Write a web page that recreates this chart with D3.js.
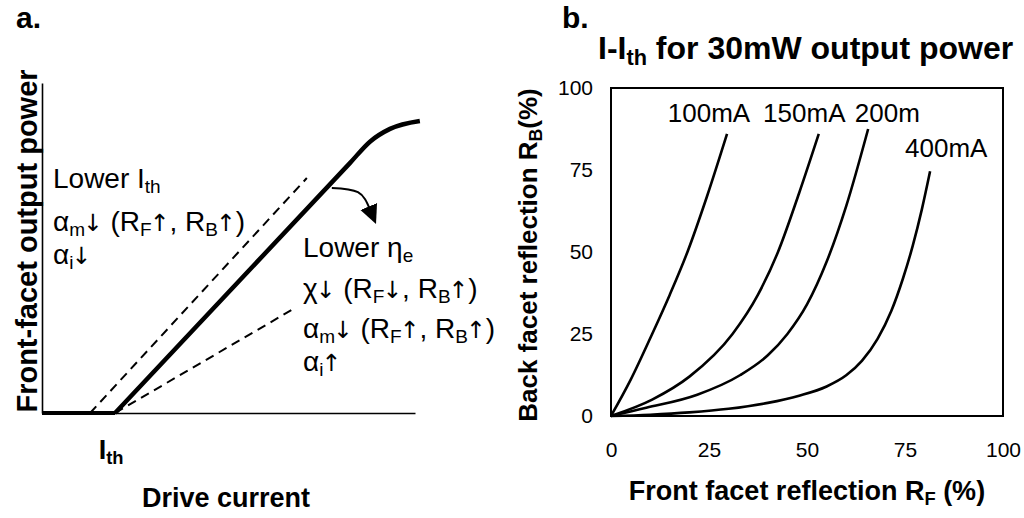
<!DOCTYPE html>
<html>
<head>
<meta charset="utf-8">
<script src="https://cdn.jsdelivr.net/npm/d3@7"></script>
<style>
  body { margin: 0; background: #fff; }
  svg text { font-family: "Liberation Sans", Arial, Helvetica, sans-serif; fill: #000; }
  .arw { font-family: "DejaVu Sans", sans-serif; }
</style>
</head>
<body>
<div id="chart"></div>
<script>
// ---- panel a: schematic L-I curve (arbitrary units 0..100) ----
var ithA = 19.6;
var liCurve = [[19.6, 0], [82.6, 75.8], [88, 82.3], [93.3, 86.1], [101.3, 88.5]];
var dashUpper = [[12.9, 0], [71, 71.2]];
var dashLower = [[19.6, 0], [67.8, 31.8]];
var arrowA = [[77.7, 68.2], [84.7, 66.9], [87.8, 62.0]];

// annotation lines: [text, 1] = subscript, [text, 2] = arrow glyph
var notesLeft = [
  [["Lower I"], ["th", 1]],
  [["α"], ["m", 1], ["↓", 2], [" (R"], ["F", 1], ["↑", 2], [", R"], ["B", 1], ["↑", 2], [")"]],
  [["α"], ["i", 1], ["↓", 2]]
];
var notesRight = [
  [["Lower η"], ["e", 1]],
  [["χ"], ["↓", 2], [" (R"], ["F", 1], ["↓", 2], [", R"], ["B", 1], ["↑", 2], [")"]],
  [["α"], ["m", 1], ["↓", 2], [" (R"], ["F", 1], ["↑", 2], [", R"], ["B", 1], ["↑", 2], [")"]],
  [["α"], ["i", 1], ["↑", 2]]
];

// ---- panel b: I-Ith curves (RF %, RB %) ----
var curveNames = ["100mA", "150mA", "200m", "400mA"];
var c100 = [[0, 0], [5, 11], [10.5, 25], [15, 37], [19.5, 50], [24.5, 67], [29.6, 86]];
var c150 = [[0, 0], [10.5, 5], [20, 12], [31, 25], [37.5, 37], [42.6, 50], [48, 68], [53, 86]];
var c200 = [[0, 0], [9, 2.5], [22, 6.5], [33, 12.5], [40, 18.5], [45, 25], [50, 34], [55, 47],
            [60, 64], [65.6, 87.5]];
var c400 = [[0, 0], [10, 0.4], [20, 1.1], [30, 2.2], [40, 4], [48, 6.2], [55, 9], [60, 12.4],
            [64, 16.8], [68, 23.5], [71.5, 32], [74.5, 42], [77, 52], [79.3, 63], [81.4, 74.6]];
var labelPos = [[14.5, 89.6], [38.8, 89.6], [62.2, 89.6], [75, 79]];
var ticksB = [0, 25, 50, 75, 100];

var W = 1024, H = 518;
var svg = d3.select("#chart").append("svg")
    .attr("width", W).attr("height", H)
    .attr("viewBox", "0 0 " + W + " " + H);

function richText(sel, parts, size) {
  var low = false;
  parts.forEach(function (p) {
    var ts = sel.append("tspan").text(p[0]);
    var sub = p[1] === 1;
    if (sub && !low) ts.attr("dy", size * 0.18);
    if (!sub && low) ts.attr("dy", -size * 0.18);
    if (sub) ts.attr("font-size", size * 0.68);
    if (p[1] === 2) ts.attr("class", "arw").attr("font-size", size * 0.84).attr("dx", -2);
    low = sub;
  });
}

// ================= panel a =================
var xA = d3.scaleLinear().domain([0, 100]).range([42, 415]);
var yA = d3.scaleLinear().domain([0, 100]).range([413, 83]);
var gA = svg.append("g");

gA.append("g")
    .attr("transform", "translate(0," + yA(0) + ")")
    .call(d3.axisBottom(xA).tickValues([]).tickSizeOuter(0))
    .select(".domain").attr("stroke-width", 1.6);
gA.append("g")
    .attr("transform", "translate(" + xA(0) + ",0)")
    .call(d3.axisLeft(yA).tickValues([]).tickSizeOuter(0))
    .select(".domain").attr("stroke-width", 1.6);

var lineA = d3.line().x(function (d) { return xA(d[0]); }).y(function (d) { return yA(d[1]); });

gA.append("path").datum(dashUpper).attr("d", lineA)
    .attr("fill", "none").attr("stroke", "#000").attr("stroke-width", 2).attr("stroke-dasharray", "9,6");
gA.append("path").datum(dashLower).attr("d", lineA)
    .attr("fill", "none").attr("stroke", "#000").attr("stroke-width", 2).attr("stroke-dasharray", "9,6");

gA.append("path").datum([[0, 0], [ithA, 0]]).attr("d", lineA)
    .attr("fill", "none").attr("stroke", "#000").attr("stroke-width", 4);
gA.append("path").datum(liCurve).attr("d", lineA.curve(d3.curveMonotoneX))
    .attr("fill", "none").attr("stroke", "#000").attr("stroke-width", 4.5).attr("stroke-linejoin", "round");

svg.append("defs").append("marker")
    .attr("id", "head").attr("markerUnits", "userSpaceOnUse")
    .attr("markerWidth", 20).attr("markerHeight", 20)
    .attr("viewBox", "0 0 20 20").attr("refX", 2).attr("refY", 10)
    .attr("orient", "auto")
  .append("path").attr("d", "M0,1 L19,10 L0,19 Z").attr("fill", "#000");

gA.append("path").datum(arrowA)
    .attr("d", d3.line().x(function (d) { return xA(d[0]); }).y(function (d) { return yA(d[1]); }).curve(d3.curveNatural))
    .attr("fill", "none").attr("stroke", "#000").attr("stroke-width", 2)
    .attr("marker-end", "url(#head)");

var fsNote = 28;
var leftBase = [188, 231, 264];
notesLeft.forEach(function (parts, i) {
  var t = gA.append("text").attr("x", 53).attr("y", leftBase[i]).attr("font-size", fsNote);
  richText(t, parts, fsNote);
});
var rightBase = [257, 298, 338, 371];
notesRight.forEach(function (parts, i) {
  var t = gA.append("text").attr("x", 303).attr("y", rightBase[i]).attr("font-size", fsNote);
  richText(t, parts, fsNote);
});

var ithLbl = gA.append("text").attr("x", xA(ithA) - 4).attr("y", 459)
    .attr("text-anchor", "middle").attr("font-weight", "bold").attr("font-size", 27);
richText(ithLbl, [["I"], ["th", 1]], 27);

gA.append("text").attr("x", 226).attr("y", 507).attr("text-anchor", "middle")
    .attr("font-weight", "bold").attr("font-size", 27).text("Drive current");
gA.append("text").attr("transform", "translate(37,241) rotate(-90)")
    .attr("text-anchor", "middle").attr("font-weight", "bold").attr("font-size", 29)
    .text("Front-facet output power");
svg.append("text").attr("x", 16).attr("y", 28).attr("font-weight", "bold").attr("font-size", 30).text("a.");

// ================= panel b =================
var xB = d3.scaleLinear().domain([0, 100]).range([611, 1003]);
var yB = d3.scaleLinear().domain([0, 100]).range([416, 88]);
var gB = svg.append("g");

var ax = gB.append("g").attr("transform", "translate(0," + yB(0) + ")")
    .call(d3.axisBottom(xB).tickValues(ticksB).tickSize(0).tickPadding(26));
var ay = gB.append("g").attr("transform", "translate(" + xB(0) + ",0)")
    .call(d3.axisLeft(yB).tickValues(ticksB).tickSize(0).tickPadding(18));
[ax, ay].forEach(function (a) {
  a.select(".domain").remove();
  a.selectAll("text").attr("font-size", 21).attr("font-family", "Liberation Sans, Arial, sans-serif");
});

gB.append("rect").attr("x", xB(0)).attr("y", yB(100))
    .attr("width", xB(100) - xB(0)).attr("height", yB(0) - yB(100))
    .attr("fill", "none").attr("stroke", "#000").attr("stroke-width", 2);

var lineB = d3.line().x(function (d) { return xB(d[0]); }).y(function (d) { return yB(d[1]); })
    .curve(d3.curveMonotoneX);
[c100, c150, c200, c400].forEach(function (c) {
  gB.append("path").datum(c).attr("d", lineB)
      .attr("fill", "none").attr("stroke", "#000").attr("stroke-width", 2.6);
});

curveNames.forEach(function (n, i) {
  gB.append("text").attr("x", xB(labelPos[i][0])).attr("y", yB(labelPos[i][1]))
      .attr("font-size", 26).text(n);
});

var title = gB.append("text").attr("x", 598).attr("y", 59)
    .attr("font-weight", "bold").attr("font-size", 32);
richText(title, [["I-I"], ["th", 1], [" for 30mW output power"]], 32);

var xl = gB.append("text").attr("x", 807).attr("y", 500).attr("text-anchor", "middle")
    .attr("font-weight", "bold").attr("font-size", 27);
richText(xl, [["Front facet reflection R"], ["F", 1], [" (%)"]], 27);

var yl = gB.append("text").attr("transform", "translate(537,255) rotate(-90)")
    .attr("text-anchor", "middle").attr("font-weight", "bold").attr("font-size", 26);
richText(yl, [["Back facet reflection R"], ["B", 1], ["(%)"]], 26);

svg.append("text").attr("x", 562).attr("y", 28).attr("font-weight", "bold").attr("font-size", 30).text("b.");
</script>
</body>
</html>
